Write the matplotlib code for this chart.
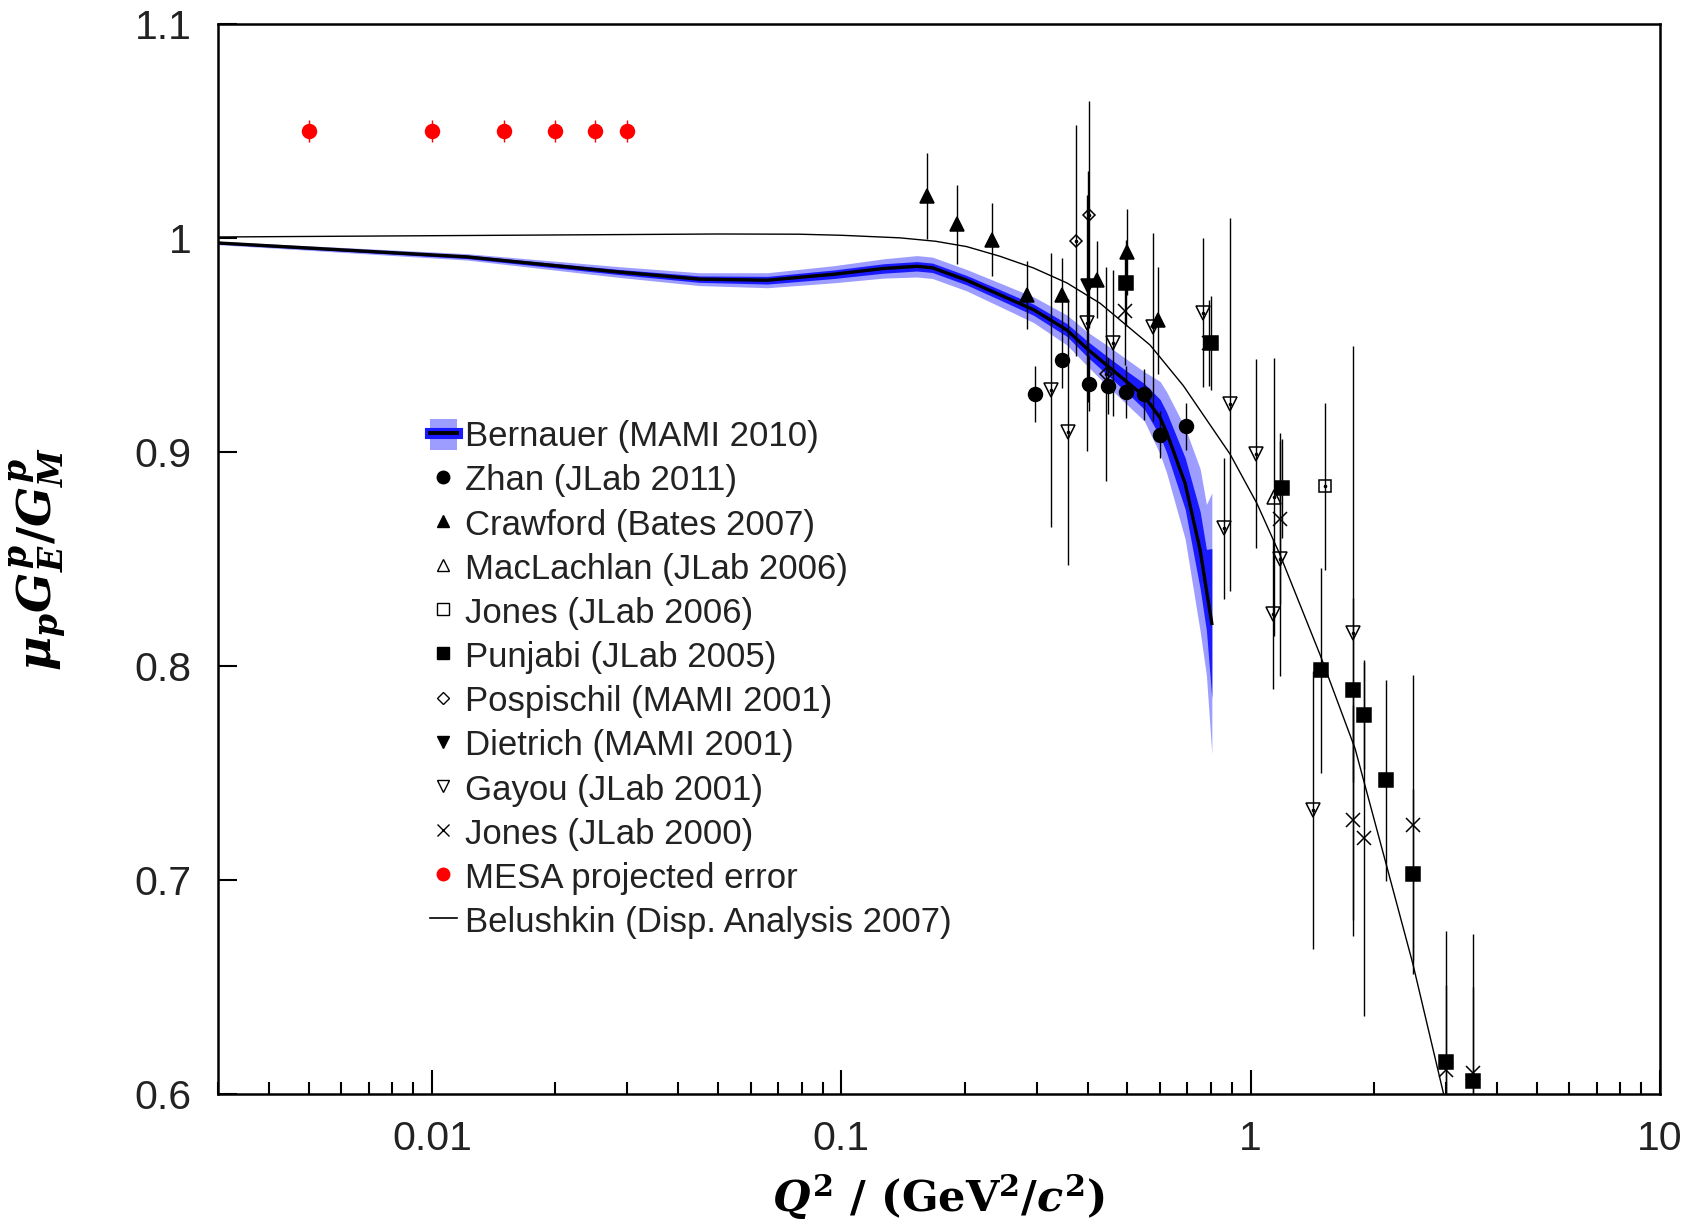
import matplotlib
matplotlib.use('Agg')
import matplotlib.pyplot as plt
from matplotlib.lines import Line2D
from matplotlib.patches import Patch
from matplotlib.legend_handler import HandlerTuple

plt.rcParams['font.family'] = ['Liberation Sans', 'DejaVu Sans']
plt.rcParams['mathtext.fontset'] = 'custom'
plt.rcParams['mathtext.it'] = 'DejaVu Serif:italic:bold'
plt.rcParams['mathtext.rm'] = 'DejaVu Serif:bold'
plt.rcParams['mathtext.bf'] = 'DejaVu Serif:bold'

# Bernauer (MAMI 2010) fit, central line and error bands
bern_x = [0.003, 0.0122, 0.0284, 0.045, 0.066, 0.096, 0.127, 0.153, 0.167, 0.2025,
          0.244, 0.295, 0.356, 0.40, 0.449, 0.497, 0.55, 0.601, 0.624, 0.692,
          0.753, 0.78, 0.804]
bern_y = [0.9977, 0.9912, 0.9842, 0.9808, 0.9803, 0.9831, 0.9858, 0.9868, 0.9861, 0.9803,
          0.9735, 0.9665, 0.957, 0.948, 0.940, 0.933, 0.926, 0.916, 0.909, 0.8853,
          0.8541, 0.8355, 0.8199]
bern_inner = [0.0004, 0.0008, 0.0012, 0.0015, 0.0018, 0.002, 0.0022, 0.0022, 0.0022, 0.0022,
              0.0024, 0.0026, 0.003, 0.0037, 0.0043, 0.005, 0.006, 0.0086, 0.0095, 0.012,
              0.018, 0.019, 0.035]
bern_outer = [0.0008, 0.0015, 0.0025, 0.003, 0.0035, 0.004, 0.0045, 0.005, 0.005, 0.005,
              0.0055, 0.006, 0.007, 0.008, 0.0095, 0.0105, 0.0115, 0.017, 0.019, 0.026,
              0.038, 0.040, 0.061]

# Belushkin dispersion analysis curve
bel_x = [0.003, 0.05, 0.079, 0.10, 0.139, 0.17, 0.2025, 0.244, 0.295, 0.356, 0.429,
         0.568, 0.685, 0.891, 1.036, 1.18, 1.48, 1.80, 2.153, 2.49, 2.96]
bel_y = [1.0005, 1.0019, 1.0018, 1.0013, 1.0001, 0.9985, 0.996, 0.9915, 0.986, 0.979, 0.9695,
         0.950, 0.931, 0.899, 0.876, 0.852, 0.805, 0.7614, 0.7061, 0.661, 0.6002]

zhan_x = [0.298, 0.346, 0.402, 0.449, 0.496, 0.548, 0.600, 0.697]
zhan_y = [0.927, 0.943, 0.932, 0.931, 0.928, 0.927, 0.908, 0.912]
zhan_e = [0.013, 0.013, 0.013, 0.013, 0.012, 0.012, 0.011, 0.011]

craw_x = [0.162, 0.192, 0.233, 0.284, 0.347, 0.421, 0.500, 0.595]
craw_y = [1.0196, 1.0065, 0.9993, 0.9735, 0.9736, 0.9806, 0.9935, 0.9615]
craw_e = [0.020, 0.0185, 0.017, 0.016, 0.017, 0.018, 0.020, 0.025]

macl_x = [1.138]
macl_y = [0.879]
macl_e = [0.065]

jones06_x = [1.516]
jones06_y = [0.884]
jones06_e = [0.039]

punj_x = [0.496, 0.80, 1.192, 1.485, 1.779, 1.895, 2.141, 2.49, 3.0, 3.494]
punj_y = [0.979, 0.951, 0.883, 0.798, 0.789, 0.777, 0.7466, 0.7027, 0.615, 0.606]
punj_e = [0.02, 0.022, 0.023, 0.048, 0.043, 0.025, 0.047, 0.04, 0.036, 0.044]

posp_x = [0.375, 0.402, 0.444]
posp_y = [0.9987, 1.011, 0.9364]
posp_e = [0.054, 0.053, 0.05]

diet_x = [0.40]
diet_y = [0.9775]
diet_e = [0.054]

gayou_x = [0.3255, 0.357, 0.399, 0.462, 0.579, 0.767, 0.863, 0.891, 1.028, 1.134, 1.18, 1.424, 1.775]
gayou_y = [0.9292, 0.9094, 0.9603, 0.951, 0.9585, 0.9652, 0.8643, 0.9223, 0.8993, 0.8245, 0.8502, 0.7326, 0.8155]
gayou_e = [0.064, 0.062, 0.06, 0.034, 0.044, 0.035, 0.033, 0.087, 0.044, 0.035, 0.055, 0.065, 0.134]

jones00_x = [0.492, 0.79, 1.18, 1.779, 1.89, 2.487, 3.0, 3.494]
jones00_y = [0.9658, 0.951, 0.8689, 0.7279, 0.7196, 0.7259, 0.6114, 0.6098]
jones00_e = [0.025, 0.02, 0.04, 0.054, 0.083, 0.07, 0.065, 0.065]

mesa_x = [0.005, 0.01, 0.015, 0.02, 0.025, 0.03]
mesa_y = [1.05, 1.05, 1.05, 1.05, 1.05, 1.05]
mesa_e = [0.005, 0.005, 0.005, 0.005, 0.005, 0.005]

light_blue = '#9d9dff'
blue = '#1a1aff'

fig = plt.figure(figsize=(17.03, 12.28), dpi=100)
ax = fig.add_axes([0.128, 0.1091, 0.8467, 0.8713])

lo_out = [c - w for c, w in zip(bern_y, bern_outer)]
hi_out = [c + w for c, w in zip(bern_y, bern_outer)]
lo_in = [c - w for c, w in zip(bern_y, bern_inner)]
hi_in = [c + w for c, w in zip(bern_y, bern_inner)]
ax.fill_between(bern_x, lo_out, hi_out, color=light_blue, lw=0, zorder=1)
ax.fill_between(bern_x, lo_in, hi_in, color=blue, lw=0, zorder=2)
ax.plot(bern_x, bern_y, color='black', lw=2.4, zorder=3)

ax.plot(bel_x, bel_y, color='black', lw=1.0, zorder=3)


def plot_set(x, y, err, marker, filled=True, ms=9.5, color='black'):
    ax.errorbar(x, y, yerr=err, fmt=marker, ms=ms,
                mfc=color if filled else 'none', mec=color, mew=1.1,
                ecolor=color, elinewidth=1.0, capsize=0, zorder=4)
    if not filled:
        # small centre dot of the open markers
        ax.plot(x, y, ls='none', marker='o', ms=1.6, color=color, zorder=5)


plot_set(zhan_x, zhan_y, zhan_e, 'o', ms=10)
plot_set(craw_x, craw_y, craw_e, '^')
plot_set(macl_x, macl_y, macl_e, '^', filled=False)
plot_set(jones06_x, jones06_y, jones06_e, 's', filled=False, ms=9)
plot_set(punj_x, punj_y, punj_e, 's', ms=9.5)
plot_set(posp_x, posp_y, posp_e, 'D', filled=False, ms=6.5)
plot_set(diet_x, diet_y, diet_e, 'v')
plot_set(gayou_x, gayou_y, gayou_e, 'v', filled=False)
plot_set(jones00_x, jones00_y, jones00_e, 'x', ms=9.5)
plot_set(mesa_x, mesa_y, mesa_e, 'o', ms=10, color='red')

ax.set_xscale('log')
ax.set_xlim(0.003, 10)
ax.set_ylim(0.6, 1.1)
ax.set_xticks([0.01, 0.1, 1, 10])
ax.set_xticklabels(['0.01', '0.1', '1', '10'])
ax.set_yticks([0.6, 0.7, 0.8, 0.9, 1.0, 1.1])
ax.set_yticklabels(['0.6', '0.7', '0.8', '0.9', '1', '1.1'])
ax.tick_params(axis='both', which='major', direction='in', labelsize=29.5, pad=19,
               top=False, right=False, width=1.5, colors='black', labelcolor='#222222')
ax.tick_params(axis='x', which='major', length=17)
ax.tick_params(axis='y', which='major', length=14)
ax.tick_params(axis='x', which='minor', direction='in', length=9, width=1.5, top=False)
for s in ax.spines.values():
    s.set_linewidth(1.8)

ax.set_xlabel(r'$Q^2\ /\ (\mathrm{GeV}^2/c^2)$', fontsize=31)
ax.set_ylabel(r'$\mu_p G_E^p/G_M^p$', fontsize=34)
ax.xaxis.set_label_coords(0.5, -0.073)
ax.yaxis.set_label_coords(-0.103, 0.5)

handles = [
    (Patch(facecolor=light_blue, edgecolor='none'),
     Line2D([], [], color=blue, lw=8),
     Line2D([], [], color='black', lw=2.8)),
    Line2D([], [], ls='none', marker='o', ms=9, color='black'),
    Line2D([], [], ls='none', marker='^', ms=8, color='black'),
    Line2D([], [], ls='none', marker='^', ms=8, mfc='none', mec='black'),
    Line2D([], [], ls='none', marker='s', ms=8, mfc='none', mec='black'),
    Line2D([], [], ls='none', marker='s', ms=9, color='black'),
    Line2D([], [], ls='none', marker='D', ms=6, mfc='none', mec='black'),
    Line2D([], [], ls='none', marker='v', ms=8, color='black'),
    Line2D([], [], ls='none', marker='v', ms=8, mfc='none', mec='black'),
    Line2D([], [], ls='none', marker='x', ms=8, color='black'),
    Line2D([], [], ls='none', marker='o', ms=9, color='red'),
    Line2D([], [], color='black', lw=1.2),
]
labels = ['Bernauer (MAMI 2010)', 'Zhan (JLab 2011)', 'Crawford (Bates 2007)',
          'MacLachlan (JLab 2006)', 'Jones (JLab 2006)', 'Punjabi (JLab 2005)',
          'Pospischil (MAMI 2001)', 'Dietrich (MAMI 2001)', 'Gayou (JLab 2001)',
          'Jones (JLab 2000)', 'MESA projected error', 'Belushkin (Disp. Analysis 2007)']
leg = ax.legend(handles, labels, loc='upper left', bbox_to_anchor=(0.1467, 0.631),
                frameon=False, fontsize=25, borderpad=0, borderaxespad=0,
                handlelength=0.8, handleheight=1.0, handletextpad=0.22,
                labelspacing=0.28, handler_map={tuple: HandlerTuple(ndivide=1)})
for t in leg.get_texts():
    t.set_color('#222222')

fig.savefig('out.png', dpi=100)
